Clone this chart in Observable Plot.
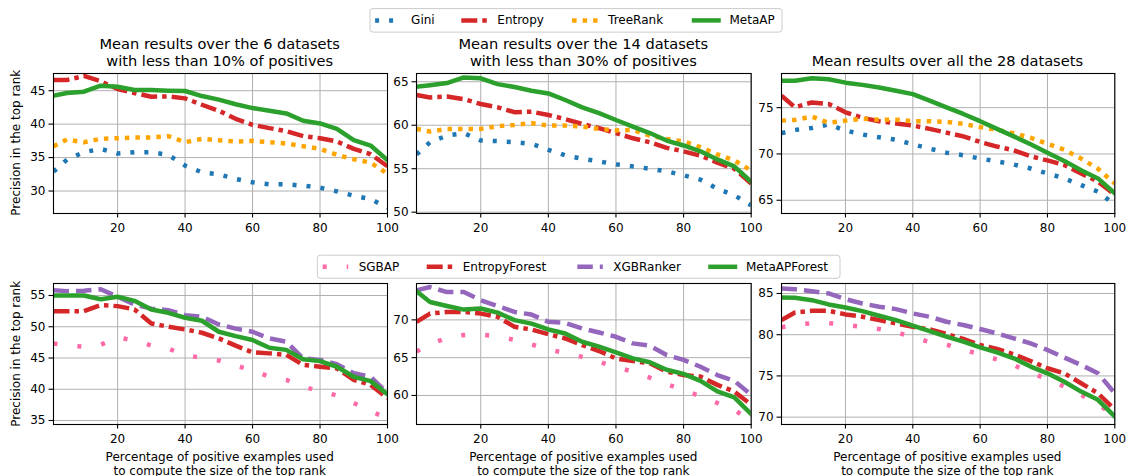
<!DOCTYPE html>
<html>
<head>
<meta charset="utf-8">
<script src="https://cdn.jsdelivr.net/npm/d3@7"></script>
<script src="https://cdn.jsdelivr.net/npm/@observablehq/plot@0.6"></script>
<style>
  html, body { margin: 0; padding: 0; background: #fff; }
  #chart { position: relative; width: 1138px; height: 476px; overflow: hidden; background: #fff; font-family: "DejaVu Sans", sans-serif; }
  #chart svg { position: absolute; }
</style>
</head>
<body>
<div id="chart"></div>
<script>
// ---------------- data ----------------
const xs = [1,5,10,15,20,25,30,35,40,45,50,55,60,65,70,75,80,85,90,95,100];
const xTicks = [20,40,60,80,100];

// top row: mean over 6 datasets (<10% positives)
const gini6     = [32.9,34.7,35.8,36.3,35.6,35.8,35.8,35.4,33.8,32.8,32.5,31.8,31.3,31.0,31.0,30.8,30.5,29.95,29.3,28.8,27.5];
const entropy6  = [46.6,46.6,47.2,46.4,45.25,44.65,44.1,44.15,43.85,42.9,42.0,40.8,39.9,39.4,38.96,38.2,37.9,37.4,36.3,35.5,33.7];
const treerank6 = [36.7,37.7,37.3,37.8,37.9,38.0,38.0,38.2,37.3,37.8,37.6,37.4,37.5,37.3,37.1,36.7,36.3,35.4,34.75,34.25,32.6];
const metaap6   = [44.26,44.65,44.85,45.74,45.6,45.1,45.1,45.0,44.95,44.2,43.66,42.97,42.4,42.0,41.6,40.5,40.1,39.3,37.6,36.8,34.6];

// top row: mean over 14 datasets (<30% positives)
const gini14     = [56.64,58.05,58.8,59.1,58.24,58.17,58.05,57.86,57.18,56.53,56.15,55.84,55.5,55.27,55.0,54.7,54.24,53.74,52.7,51.95,50.8];
const entropy14  = [63.47,63.2,63.3,63.0,62.44,62.06,61.5,61.56,61.18,60.7,60.15,59.66,59.1,58.5,58.05,57.4,57.0,56.5,55.7,55.0,53.3];
const treerank14 = [59.58,59.27,59.58,59.58,59.58,59.9,60.04,60.23,59.96,59.96,59.85,59.58,59.4,59.46,58.8,58.43,58.13,57.48,56.64,55.95,54.8];
const metaap14   = [64.43,64.6,64.85,65.5,65.4,64.73,64.4,63.97,63.66,62.9,62.06,61.4,60.6,59.85,59.1,58.24,57.67,57.0,56.07,55.27,53.5];

// top row: mean over all 28 datasets
const gini28     = [72.25,72.6,72.8,73.18,72.54,72.1,71.8,71.54,71.04,70.57,70.14,69.86,69.5,69.2,68.86,68.43,67.9,67.36,66.64,65.93,64.5];
const entropy28  = [76.3,75.04,75.57,75.4,74.5,73.9,73.54,73.3,73.07,72.71,72.3,71.9,71.3,70.8,70.4,69.75,69.3,68.8,67.9,67.0,65.6];
const treerank28 = [73.6,73.68,74.04,73.36,73.6,73.8,73.7,73.7,73.54,73.54,73.46,73.25,72.9,72.6,72.25,71.75,71.1,70.46,69.5,68.4,66.8];
const metaap28   = [77.9,77.9,78.18,78.07,77.7,77.46,77.18,76.82,76.46,75.75,75.04,74.32,73.54,72.71,71.9,71.04,70.14,69.25,68.25,67.36,65.75];

// bottom row: forests, 6 datasets
const sgbap6         = [47.3,47.05,46.8,47.1,48.3,47.8,47.0,46.5,45.5,45.0,44.6,43.8,43.0,42.0,41.5,40.4,39.7,39.0,37.8,36.5,35.3];
const entropyForest6 = [52.5,52.5,52.5,53.46,53.3,52.77,50.53,50.0,49.57,49.04,48.14,46.97,45.9,45.74,45.5,43.9,43.6,43.35,41.5,40.7,38.56];
const xgbRanker6     = [55.85,55.7,55.75,56.0,54.8,53.56,52.9,52.66,51.86,51.6,50.37,49.7,49.2,48.14,47.6,44.95,44.7,44.0,42.55,42.0,39.36];
const metaapForest6  = [55.0,55.0,55.0,54.4,54.8,54.15,52.77,52.23,51.44,50.96,49.2,48.5,47.87,46.65,46.3,44.8,44.5,43.6,42.0,41.3,39.2];

// bottom row: forests, 14 datasets
const sgbap14         = [65.8,66.8,67.6,68.0,68.05,67.8,67.35,66.75,66.1,65.6,65.1,64.45,63.75,63.15,62.35,61.5,60.7,59.9,59.0,58.1,56.6];
const entropyForest14 = [69.74,70.83,71.05,71.05,70.83,70.4,69.08,68.73,68.1,67.54,66.67,65.88,64.9,64.56,64.25,63.16,62.7,62.5,61.4,60.53,58.77];
const xgbRanker14     = [73.9,74.34,73.68,73.68,72.59,71.84,71.05,70.7,69.74,69.6,68.86,68.33,67.76,66.89,66.58,65.35,64.7,63.8,62.7,61.93,60.1];
const metaapForest14  = [73.77,72.37,71.84,71.36,71.5,70.96,69.96,69.5,68.73,68.2,67.1,66.45,65.7,64.9,64.4,63.4,62.85,61.93,60.53,59.74,57.54];

// bottom row: forests, 28 datasets
const sgbap28         = [80.9,81.2,81.4,81.4,81.2,80.95,80.7,80.3,79.7,79.1,78.8,78.2,77.6,77.0,76.3,75.4,74.6,73.7,72.7,71.6,70.1];
const entropyForest28 = [81.77,82.7,82.9,82.9,82.46,82.18,81.77,81.37,80.97,80.65,80.08,79.48,78.75,78.27,77.62,76.81,75.93,75.32,74.11,72.9,70.9];
const xgbRanker28     = [85.6,85.52,85.28,85.0,84.31,83.79,83.39,83.1,82.58,82.18,81.57,81.17,80.69,80.16,79.56,78.95,78.15,77.22,76.33,75.32,72.9];
const metaapForest28  = [84.52,84.48,84.19,83.67,83.3,82.86,82.3,81.77,81.09,80.44,79.76,79.15,78.47,77.86,77.14,76.13,75.32,74.3,73.1,72.1,70.08];

const titles = [
  ["Mean results over the 6 datasets", "with less than 10% of positives"],
  ["Mean results over the 14 datasets", "with less than 30% of positives"],
  ["Mean results over all the 28 datasets"]
];
const yLabel = "Precision in the top rank";
const xLabel = ["Percentage of positive examples used", "to compute the size of the top rank"];

// ---------------- styles ----------------
const STY = {
  "Gini":          {color: "#1f77b4", dash: "4,10"},
  "Entropy":       {color: "#d62728", dash: "16,5,4.5,5"},
  "TreeRank":      {color: "#ffa500", dash: "4.5,6"},
  "MetaAP":        {color: "#2ca02c", dash: null},
  "SGBAP":         {color: "#ff69a8", dash: "4,20"},
  "EntropyForest": {color: "#d62728", dash: "16,5,4.5,5"},
  "XGBRanker":     {color: "#9467bd", dash: "15.5,7"},
  "MetaAPForest":  {color: "#2ca02c", dash: null}
};
const LW = 4.5;

const topSeries = (g, e, t, m) => [["Gini", g], ["Entropy", e], ["TreeRank", t], ["MetaAP", m]];
const botSeries = (s, e, x, m) => [["SGBAP", s], ["EntropyForest", e], ["XGBRanker", x], ["MetaAPForest", m]];

const panels = [
  {frame: [52.7, 72.7, 386.7, 212.7],  ydom: [26.64, 47.57], yt: [30,35,40,45],    series: topSeries(gini6, entropy6, treerank6, metaap6)},
  {frame: [416, 72.7, 750.7, 212.7],   ydom: [49.85, 65.95], yt: [50,55,60,65],    series: topSeries(gini14, entropy14, treerank14, metaap14)},
  {frame: [780.7, 72.7, 1114, 212.7],  ydom: [63.57, 78.69], yt: [65,70,75],       series: topSeries(gini28, entropy28, treerank28, metaap28)},
  {frame: [52.7, 283.3, 386.7, 424.3], ydom: [34.36, 56.92], yt: [35,40,45,50,55], series: botSeries(sgbap6, entropyForest6, xgbRanker6, metaapForest6)},
  {frame: [416, 283.3, 750.7, 424.3],  ydom: [56.16, 74.81], yt: [60,65,70],       series: botSeries(sgbap14, entropyForest14, xgbRanker14, metaapForest14)},
  {frame: [780.7, 283.3, 1114, 424.3], ydom: [69.11, 86.21], yt: [70,75,80,85],    series: botSeries(sgbap28, entropyForest28, xgbRanker28, metaapForest28)}
];

const chart = document.getElementById("chart");

// ---------------- panels ----------------
for (const p of panels) {
  const [l, t, r, b] = p.frame;
  const mL = 50, mT = 10, mR = 15, mB = 30;
  const lineMarks = p.series.map(([name, vals]) => {
    const s = STY[name];
    const rows = xs.map((x, i) => ({x, y: vals[i], name}));
    return Plot.line(rows, {
      x: "x", y: "y", stroke: s.color, strokeWidth: LW,
      strokeDasharray: s.dash || undefined,
      strokeLinecap: s.dash ? "butt" : "square",
      strokeLinejoin: "round", clip: true
    });
  });
  const svg = Plot.plot({
    width: (r - l) + mL + mR,
    height: (b - t) + mT + mB,
    marginLeft: mL, marginTop: mT, marginRight: mR, marginBottom: mB,
    x: {domain: [1, 100]},
    y: {domain: p.ydom},
    style: {background: "transparent", fontFamily: "DejaVu Sans", fontSize: "12px", color: "black", overflow: "visible", maxWidth: "none"},
    marks: [
      Plot.gridX(xTicks, {stroke: "#b0b0b0", strokeOpacity: 1, strokeWidth: 1}),
      Plot.gridY(p.yt, {stroke: "#b0b0b0", strokeOpacity: 1, strokeWidth: 1}),
      ...lineMarks,
      Plot.frame({stroke: "black", strokeWidth: 1.1}),
      Plot.axisX(xTicks, {tickSize: 4.5, tickPadding: 5, label: null, fontSize: 12, strokeWidth: 1.1}),
      Plot.axisY(p.yt, {tickSize: 4.5, tickPadding: 3.5, label: null, fontSize: 12, strokeWidth: 1.1})
    ]
  });
  svg.style.left = (l - mL) + "px";
  svg.style.top = (t - mT) + "px";
  chart.appendChild(svg);
}

// ---------------- overlay: titles, labels, legends ----------------
const ov = d3.select(chart).append("svg")
  .attr("width", 1138).attr("height", 476)
  .style("left", "0px").style("top", "0px")
  .style("font-family", "DejaVu Sans, sans-serif");

const centers = panels.slice(0, 3).map(p => (p.frame[0] + p.frame[2]) / 2);

// titles
titles.forEach((lines, i) => {
  const base = lines.length === 2 ? [49, 65.5] : [65.5];
  lines.forEach((txt, j) => {
    ov.append("text").attr("x", centers[i]).attr("y", base[j])
      .attr("text-anchor", "middle").attr("font-size", 14.6).attr("fill", "#000").text(txt);
  });
});

// y labels
[panels[0], panels[3]].forEach(p => {
  const cy = (p.frame[1] + p.frame[3]) / 2;
  ov.append("text").attr("transform", `translate(16,${cy}) rotate(-90)`)
    .attr("text-anchor", "middle").attr("dominant-baseline", "central")
    .attr("font-size", 12).attr("fill", "#000").text(yLabel);
});

// x labels
panels.slice(3).forEach(p => {
  const cx = (p.frame[0] + p.frame[2]) / 2;
  [460.5, 474.5].forEach((y, j) => {
    ov.append("text").attr("x", cx).attr("y", y).attr("text-anchor", "middle")
      .attr("font-size", 12).attr("fill", "#000").text(xLabel[j]);
  });
});

// legends
function legend(box, items, cy) {
  ov.append("rect").attr("x", box[0]).attr("y", box[1]).attr("width", box[2]).attr("height", box[3])
    .attr("rx", 3).attr("fill", "rgba(255,255,255,0.8)").attr("stroke", "#cccccc").attr("stroke-width", 1);
  for (const [name, tx] of items) {
    const s = STY[name];
    const hx = tx - 36;
    ov.append("line").attr("x1", s.dash ? hx : hx + 0.5).attr("x2", s.dash ? hx + 25.5 : hx + 25)
      .attr("y1", cy).attr("y2", cy)
      .attr("stroke", s.color).attr("stroke-width", LW)
      .attr("stroke-dasharray", s.dash || null)
      .attr("stroke-linecap", s.dash ? "butt" : "square");
    ov.append("text").attr("x", tx).attr("y", cy).attr("dominant-baseline", "central")
      .attr("font-size", 12).attr("fill", "#000").text(name);
  }
}
legend([370, 8.6, 412, 23.5], [["Gini", 411.1], ["Entropy", 497.3], ["TreeRank", 608.1], ["MetaAP", 729.5]], 20.4);
legend([317.3, 255.2, 522.7, 23.1], [["SGBAP", 358.7], ["EntropyForest", 462.7], ["XGBRanker", 613.3], ["MetaAPForest", 746]], 266.8);
</script>
</body>
</html>
